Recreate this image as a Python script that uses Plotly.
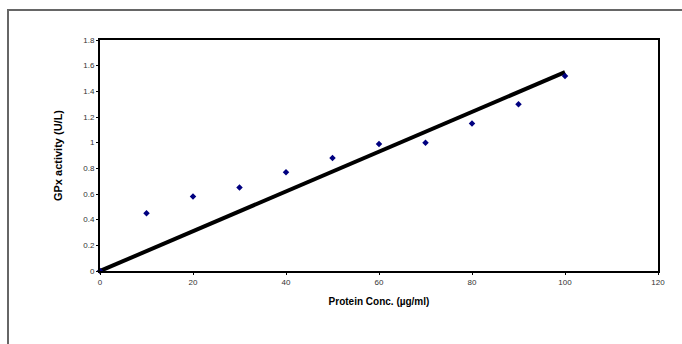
import plotly.graph_objects as go

# Data
protein_conc = [0, 10, 20, 30, 40, 50, 60, 70, 80, 90, 100]
gpx_activity = [0, 0.45, 0.58, 0.65, 0.77, 0.88, 0.99, 1.00, 1.15, 1.30, 1.52]
trend_x = [0, 100]
trend_y = [0, 1.55]

x_title = "Protein Conc. (µg/ml)"
y_title = "GPx activity (U/L)"

fig = go.Figure()
fig.add_trace(go.Scatter(
    x=trend_x, y=trend_y, mode="lines",
    line=dict(color="black", width=4), showlegend=False, hoverinfo="skip"))
fig.add_trace(go.Scatter(
    x=protein_conc, y=gpx_activity, mode="markers",
    marker=dict(symbol="diamond", size=5, color="#000080"),
    showlegend=False, cliponaxis=False))

W, H = 682, 344
L, R, T, B = 100, 24, 40, 73
pw, ph = W - L - R, H - T - B

def px2paper_x(px):
    return (px - L) / pw

def px2paper_y(py):
    return (H - B - py) / ph

fig.add_shape(type="rect", xref="paper", yref="paper",
              x0=px2paper_x(8), x1=px2paper_x(700),
              y0=px2paper_y(360), y1=px2paper_y(10),
              line=dict(color="#666666", width=2), fillcolor="rgba(0,0,0,0)", layer="below")

fig.update_layout(
    width=W, height=H,
    margin=dict(l=L, r=R, t=T, b=B),
    paper_bgcolor="white", plot_bgcolor="white",
    font=dict(family="Liberation Sans, Arial, sans-serif", color="#222222"),
    xaxis=dict(
        range=[0, 120], dtick=20, tick0=0,
        showgrid=False, zeroline=False,
        showline=True, linecolor="black", linewidth=2, mirror=True,
        ticks="outside", ticklen=2, tickcolor="black",
        tickfont=dict(size=8, color="#333333"),
        title=dict(text="<b>" + x_title + "</b>", font=dict(size=10, color="black"), standoff=12),
    ),
    yaxis=dict(
        range=[0, 1.8], dtick=0.2, tick0=0,
        showgrid=False, zeroline=False,
        showline=True, linecolor="black", linewidth=2, mirror=True,
        ticks="outside", ticklen=2, tickcolor="black",
        tickfont=dict(size=8, color="#333333"),
        title=dict(text="<b>" + y_title + "</b>", font=dict(size=11, color="black"), standoff=18),
    ),
)

fig.write_html("out.html")
